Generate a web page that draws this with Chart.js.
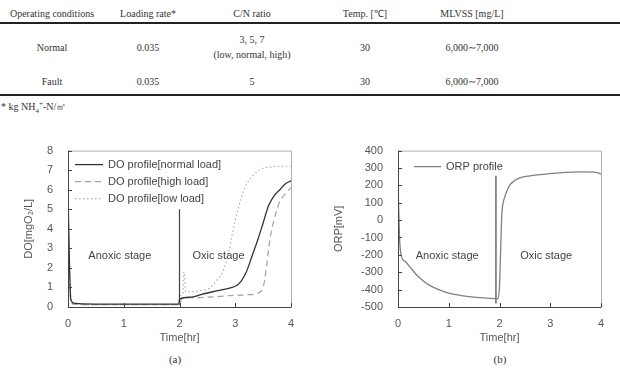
<!DOCTYPE html>
<html lang="en">
<head>
  <meta charset="UTF-8">
  <title>DO and ORP profiles</title>
  <style>
    body {
      margin: 0;
      padding: 0;
      width: 620px;
      height: 372px;
      position: relative;
      background: #fff;
      overflow: hidden;
      font-family: "Liberation Serif", "Times New Roman", serif;
      color: #333;
    }
    .cell {
      position: absolute;
      transform: translate(-50%, -50%);
      font-size: 10px;
      white-space: nowrap;
      text-align: center;
      line-height: 15px;
    }
    .rule {
      position: absolute;
      left: 0;
      width: 620px;
      height: 2px;
      background: #222;
    }
    .note {
      position: absolute;
      left: 1px;
      top: 100px;
      font-size: 10px;
    }
    .chart-box {
      position: absolute;
      top: 129px;
      width: 310px;
      height: 216px;
    }
    .cap {
      position: absolute;
      top: 353px;
      font-size: 11px;
      transform: translateX(-50%);
    }
  </style>
</head>
<body>

<!-- table of operating conditions -->
<span class="cell" style="left:52px;top:13px">Operating conditions</span>
<span class="cell" style="left:148px;top:13px">Loading rate*</span>
<span class="cell" style="left:252px;top:13px">C/N ratio</span>
<span class="cell" style="left:365px;top:13px">Temp. [℃]</span>
<span class="cell" style="left:472px;top:13px">MLVSS [mg/L]</span>
<div class="rule" style="top:22px"></div>

<span class="cell" style="left:52px;top:47px">Normal</span>
<span class="cell" style="left:148px;top:47px">0.035</span>
<span class="cell" style="left:252px;top:47px">3, 5, 7<br>(low, normal, high)</span>
<span class="cell" style="left:365px;top:47px">30</span>
<span class="cell" style="left:472px;top:47px">6,000∼7,000</span>

<span class="cell" style="left:52px;top:81px">Fault</span>
<span class="cell" style="left:148px;top:81px">0.035</span>
<span class="cell" style="left:252px;top:81px">5</span>
<span class="cell" style="left:365px;top:81px">30</span>
<span class="cell" style="left:472px;top:81px">6,000∼7,000</span>
<div class="rule" style="top:94px"></div>
<div class="note">* kg NH<sub style="font-size:7px">4</sub><sup style="font-size:7px">+</sup>-N/㎥</div>

<div class="chart-box" style="left:0"><canvas id="doChart"></canvas></div>
<div class="chart-box" style="left:310px"><canvas id="orpChart"></canvas></div>
<span class="cap" style="left:175px">(a)</span>
<span class="cap" style="left:500px">(b)</span>

<script src="https://cdn.jsdelivr.net/npm/chart.js"></script>
<script>
  // ---- data ----
  const normalTime = [0, 0.02, 0.05, 0.1, 0.2, 0.5, 1.0, 1.5, 1.99, 2.0, 2.2, 2.4, 2.6, 2.8, 2.9, 3.0, 3.1, 3.2, 3.3, 3.4, 3.5, 3.6, 3.7, 3.8, 3.9, 4.0];
  const normalDO   = [6.0, 3.0, 0.4, 0.2, 0.17, 0.15, 0.15, 0.15, 0.15, 0.4, 0.5, 0.65, 0.78, 0.9, 0.97, 1.06, 1.3, 1.8, 2.6, 3.4, 4.3, 5.2, 5.7, 6.0, 6.3, 6.45];

  const highTime = [0, 0.02, 0.05, 0.1, 0.3, 1.0, 1.5, 1.99, 2.05, 2.3, 2.6, 3.0, 3.2, 3.4, 3.45, 3.5, 3.55, 3.6, 3.65, 3.7, 3.75, 3.8, 3.9, 4.0];
  const highDO   = [5.8, 2.5, 0.3, 0.15, 0.12, 0.12, 0.12, 0.12, 0.45, 0.48, 0.52, 0.6, 0.62, 0.7, 0.78, 1.0, 1.8, 3.0, 3.9, 4.5, 5.0, 5.4, 5.8, 6.1];

  const lowTime = [0, 0.02, 0.05, 0.1, 0.3, 1.0, 1.5, 1.99, 2.02, 2.06, 2.08, 2.11, 2.2, 2.4, 2.54, 2.65, 2.78, 2.88, 2.96, 3.05, 3.17, 3.28, 3.38, 3.5, 3.6, 3.8, 4.0];
  const lowDO   = [5.5, 2.0, 0.3, 0.15, 0.12, 0.12, 0.12, 0.12, 0.6, 0.7, 1.8, 0.8, 0.78, 0.85, 0.97, 1.3, 1.83, 2.8, 3.9, 5.0, 6.1, 6.6, 6.9, 7.1, 7.15, 7.2, 7.2];

  const splitDOTime = [2.0, 2.0];
  const splitDO     = [0.1, 5.0];

  const orpTime = [0, 0.03, 0.06, 0.15, 0.25, 0.35, 0.5, 0.65, 0.8, 1.0, 1.2, 1.4, 1.6, 1.8, 1.97, 2.0, 2.02, 2.04, 2.06, 2.1, 2.15, 2.2, 2.3, 2.4, 2.6, 2.8, 3.0, 3.3, 3.6, 3.9, 4.0];
  const orpMV   = [220, -100, -200, -240, -275, -310, -350, -380, -400, -420, -432, -440, -446, -450, -452, -380, -200, 0, 80, 130, 170, 200, 228, 243, 255, 262, 268, 275, 277, 275, 265];

  const splitORPTime = [1.93, 1.93];
  const splitORP     = [-480, 255];

  const timeTicks = [0, 1, 2, 3, 4];

  function pts(xs, ys) {
    return xs.map((x, i) => ({ x: x, y: ys[i] }));
  }

  // frame with inward ticks, legend inside the plot, stage labels
  const decor = {
    id: 'decor',
    afterDatasetsDraw(chart, args, opts) {
      const c = chart.ctx;
      const a = chart.chartArea;
      const xs = chart.scales.x, ys = chart.scales.y;
      c.save();
      c.lineWidth = 1;
      c.strokeStyle = '#b0b0b0';
      c.beginPath();
      c.moveTo(a.left, a.top + 0.5); c.lineTo(a.right + 0.5, a.top + 0.5);
      c.lineTo(a.right + 0.5, a.bottom);
      c.stroke();
      c.strokeStyle = '#444';
      c.beginPath();
      c.moveTo(a.left + 0.5, a.top); c.lineTo(a.left + 0.5, a.bottom + 0.5);
      c.lineTo(a.right + 0.5, a.bottom + 0.5);
      ys.ticks.forEach(t => {
        const y = Math.round(ys.getPixelForValue(t.value)) + 0.5;
        c.moveTo(a.left, y); c.lineTo(a.left + 4, y);
      });
      xs.ticks.forEach(t => {
        const x = Math.round(xs.getPixelForValue(t.value)) + 0.5;
        c.moveTo(x, a.bottom); c.lineTo(x, a.bottom - 4);
      });
      c.stroke();

      c.font = '11px "Liberation Sans", Arial, sans-serif';
      c.fillStyle = '#444';
      c.textBaseline = 'middle';
      const lg = opts.legend;
      let row = 0;
      chart.data.datasets.forEach(ds => {
        if (!ds.label) return;
        const y = a.top + lg.dy + row * lg.step;
        c.strokeStyle = ds.borderColor;
        c.lineWidth = ds.borderWidth;
        c.setLineDash(ds.borderDash || []);
        c.beginPath();
        c.moveTo(a.left + lg.dx, y); c.lineTo(a.left + lg.dx + lg.len, y);
        c.stroke();
        c.setLineDash([]);
        c.textAlign = 'left';
        c.fillText(ds.label, a.left + lg.dx + lg.len + 5, y);
        row++;
      });

      c.textAlign = 'center';
      opts.stages.forEach(s => {
        c.fillText(s.text, xs.getPixelForValue(s.x), ys.getPixelForValue(s.y));
      });
      c.restore();
    }
  };

  const tickFont = { family: '"Liberation Sans", Arial, sans-serif', size: 11 };

  function makeOptions(yMin, yMax, yStep, yTitle, yWidth, legend, stages) {
    return {
      responsive: true,
      maintainAspectRatio: false,
      animation: false,
      layout: { padding: { top: 1, right: 19, left: 0, bottom: 0 } },
      elements: { point: { radius: 0 }, line: { cubicInterpolationMode: 'monotone' } },
      plugins: {
        legend: { display: false },
        tooltip: { enabled: false },
        decor: { legend: legend, stages: stages }
      },
      scales: {
        x: {
          type: 'linear',
          min: 0, max: 4,
          afterBuildTicks: s => { s.ticks = timeTicks.map(v => ({ value: v })); },
          afterFit: s => { s.height = 38; },
          grid: { display: false, drawTicks: false, tickLength: 0 },
          border: { display: false },
          ticks: { color: '#555', font: tickFont, padding: 10 },
          title: { display: true, text: 'Time[hr]', color: '#555', font: tickFont, padding: { top: 0, bottom: 0 } }
        },
        y: {
          min: yMin, max: yMax,
          afterFit: s => { s.width = yWidth; },
          grid: { display: false, drawTicks: false, tickLength: 0 },
          border: { display: false },
          ticks: { stepSize: yStep, autoSkip: false, color: '#555', font: tickFont, padding: 15 },
          title: { display: true, text: yTitle, color: '#555', font: tickFont, padding: { top: 22, bottom: 0 } }
        }
      }
    };
  }

  new Chart(document.getElementById('doChart'), {
    type: 'line',
    data: {
      datasets: [
        { label: 'DO profile[normal load]', data: pts(normalTime, normalDO), borderColor: '#333', borderWidth: 1.3 },
        { label: 'DO profile[high load]', data: pts(highTime, highDO), borderColor: '#a0a0a0', borderWidth: 1.2, borderDash: [6, 4] },
        { label: 'DO profile[low load]', data: pts(lowTime, lowDO), borderColor: '#b0b0b0', borderWidth: 1.2, borderDash: [1.5, 2.5] },
        { data: pts(splitDOTime, splitDO), borderColor: '#444', borderWidth: 1.2, cubicInterpolationMode: 'default', tension: 0 }
      ]
    },
    options: makeOptions(0, 8, 1, 'DO[mgO₂/L]', 68,
      { dx: 7, dy: 14, step: 17, len: 28 },
      [{ text: 'Anoxic stage', x: 0.93, y: 2.6 }, { text: 'Oxic stage', x: 2.7, y: 2.6 }]),
    plugins: [decor]
  });

  new Chart(document.getElementById('orpChart'), {
    type: 'line',
    data: {
      datasets: [
        { label: 'ORP profile', data: pts(orpTime, orpMV), borderColor: '#808080', borderWidth: 1.3 },
        { data: pts(splitORPTime, splitORP), borderColor: '#444', borderWidth: 1.2, cubicInterpolationMode: 'default', tension: 0 }
      ]
    },
    options: makeOptions(-500, 400, 100, 'ORP[mV]', 88,
      { dx: 16, dy: 16, step: 17, len: 27 },
      [{ text: 'Anoxic stage', x: 0.97, y: -206 }, { text: 'Oxic stage', x: 2.92, y: -206 }]),
    plugins: [decor]
  });
</script>

</body>
</html>
